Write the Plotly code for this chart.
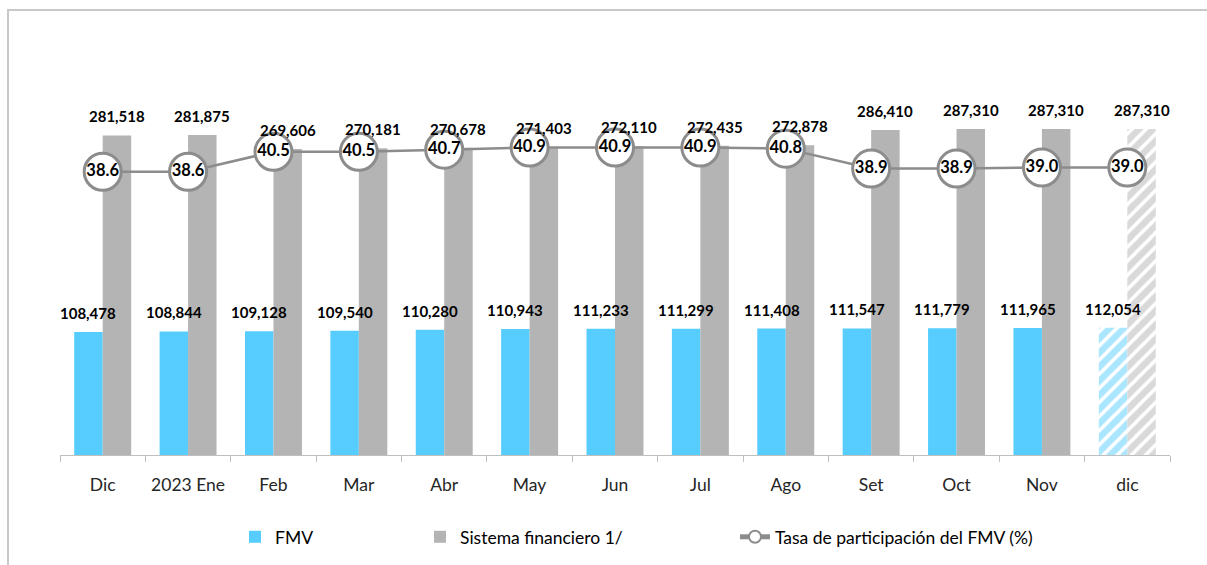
import plotly.graph_objects as go

categories = ["Dic", "2023 Ene", "Feb", "Mar", "Abr", "May", "Jun", "Jul", "Ago", "Set", "Oct", "Nov", "dic"]
fmv = [108478, 108844, 109128, 109540, 110280, 110943, 111233, 111299, 111408, 111547, 111779, 111965, 112054]
sistema = [281518, 281875, 269606, 270181, 270678, 271403, 272110, 272435, 272878, 286410, 287310, 287310, 287310]
tasa = [38.6, 38.6, 40.5, 40.5, 40.7, 40.9, 40.9, 40.9, 40.8, 38.9, 38.9, 39.0, 39.0]
hatched = [False] * 12 + [True]

BLUE = "#56CDFE"
GRAY = "#B4B4B4"
LINE = "#8C8C8C"
FONT = "Lato"

shapes_pat = ["/" if h else "" for h in hatched]

fig = go.Figure()
fig.add_trace(go.Bar(
    x=categories, y=fmv, name="FMV", offsetgroup="a", legend="legend",
    marker=dict(color=BLUE, line=dict(width=0),
                pattern=dict(shape=shapes_pat, fgcolor=BLUE, bgcolor="white", size=10, solidity=0.65)),
    hoverinfo="skip",
))
fig.add_trace(go.Bar(
    x=categories, y=sistema, name="Sistema financiero 1/", offsetgroup="b", legend="legend2",
    marker=dict(color=GRAY, line=dict(width=0),
                pattern=dict(shape=shapes_pat, fgcolor=GRAY, bgcolor="white", size=10, solidity=0.65)),
    hoverinfo="skip",
))
fig.add_trace(go.Scatter(
    x=categories, y=tasa, name="Tasa de participación del FMV (%)", yaxis="y2", legend="legend3",
    mode="lines+markers+text",
    line=dict(color=LINE, width=2.5),
    marker=dict(size=37, color="white", line=dict(color=LINE, width=3)),
    text=[f"<b>{v:.1f}</b>" for v in tasa], textposition="middle center",
    textfont=dict(family=FONT, size=16.5, color="black"),
    hoverinfo="skip",
))

annotations = []
for i, (a, b) in enumerate(zip(fmv, sistema)):
    annotations.append(dict(x=i - 1 / 6, y=a, xref="x", yref="y", text=f"<b>{a:,}</b>",
                            showarrow=False, yanchor="bottom", yshift=8,
                            font=dict(family=FONT, size=15, color="black")))
    annotations.append(dict(x=i + 1 / 6, y=b, xref="x", yref="y", text=f"<b>{b:,}</b>",
                            showarrow=False, yanchor="bottom", yshift=8,
                            font=dict(family=FONT, size=15, color="black")))

legend_common = dict(orientation="h", yanchor="middle", y=-0.225, xanchor="left",
                     font=dict(family=FONT, size=17.5, color="black"),
                     bgcolor="rgba(0,0,0,0)", itemsizing="constant")

fig.update_layout(
    width=1207, height=565,
    margin=dict(l=60, r=37, t=91, b=110, autoexpand=False),
    paper_bgcolor="white", plot_bgcolor="white",
    barmode="group", bargap=0.333, bargroupgap=0,
    showlegend=True,
    legend=dict(legend_common, x=(235 - 60) / 1110),
    legend2=dict(legend_common, x=(420 - 60) / 1110),
    legend3=dict(legend_common, x=(735 - 60) / 1110),
    xaxis=dict(type="category", range=[-0.5, len(categories) - 0.5],
               showline=True, linecolor="#BFBFBF", linewidth=1,
               ticks="outside", tickson="boundaries", ticklen=6, tickcolor="#BFBFBF",
               tickangle=0, automargin=False, ticklabelstandoff=14,
               tickfont=dict(family=FONT, size=17.5, color="#262626"), showgrid=False,
               fixedrange=True),
    yaxis=dict(range=[0, 320700], visible=False, showgrid=False, fixedrange=True, automargin=False),
    yaxis2=dict(range=[11.62, 46.29], overlaying="y", side="right", visible=False,
                showgrid=False, fixedrange=True, automargin=False),
    annotations=annotations,
    shapes=[dict(type="rect", xref="paper", yref="paper",
                 x0=(8 - 60) / 1110, x1=(1215 - 60) / 1110,
                 y0=(455 - 575) / 364, y1=(455 - 10) / 364,
                 line=dict(color="#C8C8C8", width=2), fillcolor="rgba(0,0,0,0)", layer="below")],
)

fig.write_html("out.html", config={"displayModeBar": False},
               post_script="document.body.style.margin='0';")
